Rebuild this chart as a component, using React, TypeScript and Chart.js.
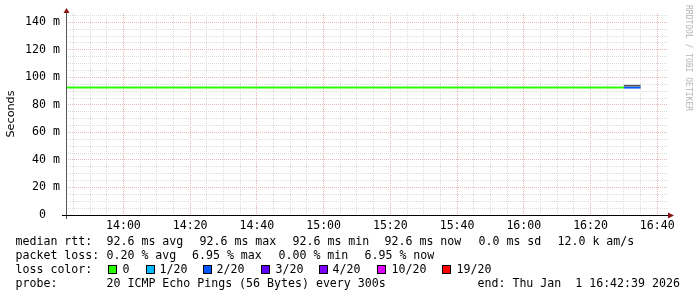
import React, { useEffect, useRef } from 'react';
import { Chart, registerables } from 'chart.js';

Chart.register(...registerables);

// ---- data ----
const stepTimes = [
  '13:40', '13:45', '13:50', '13:55',
  '14:00', '14:05', '14:10', '14:15', '14:20', '14:25', '14:30', '14:35', '14:40', '14:45', '14:50', '14:55',
  '15:00', '15:05', '15:10', '15:15', '15:20', '15:25', '15:30', '15:35', '15:40', '15:45', '15:50', '15:55',
  '16:00', '16:05', '16:10', '16:15', '16:20', '16:25', '16:30', '16:35',
];
const medianRtt = [
  92.6, 92.6, 92.6, 92.6,
  92.6, 92.6, 92.6, 92.6, 92.6, 92.6, 92.6, 92.6, 92.6, 92.6, 92.6, 92.6,
  92.6, 92.6, 92.6, 92.6, 92.6, 92.6, 92.6, 92.6, 92.6, 92.6, 92.6, 92.6,
  92.6, 92.6, 92.6, 92.6, 92.6, 92.6, 92.6, 92.6,
];
const lossIdx = [
  0, 0, 0, 0,
  0, 0, 0, 0, 0, 0, 0, 0, 0, 0, 0, 0,
  0, 0, 0, 0, 0, 0, 0, 0, 0, 0, 0, 0,
  0, 0, 0, 0, 0, 0, 0, 2,
];
const smokeTop = [
  null, null, null, null,
  null, null, null, null, null, null, null, null, null, null, null, null,
  null, null, null, null, null, null, null, null, null, null, null, null,
  null, null, null, null, null, null, 94.0, 94.0,
];
const xMajorLabels = ['14:00', '14:20', '14:40', '15:00', '15:20', '15:40', '16:00', '16:20', '16:40'];
const yMajorValues = [0, 20, 40, 60, 80, 100, 120, 140];
const lossLabels = ['0', '1/20', '2/20', '3/20', '4/20', '10/20', '19/20'];
const lossColors = ['#26ff00', '#00b8ff', '#0059ff', '#5e00ff', '#7e00ff', '#dd00ff', '#ff0000'];
const rttStats = ['92.6 ms avg', '92.6 ms max', '92.6 ms min', '92.6 ms now', '0.0 ms sd', '12.0 k am/s'];
const lossStats = ['0.20 % avg', '6.95 % max', '0.00 % min', '6.95 % now'];
const probeText = '20 ICMP Echo Pings (56 Bytes) every 300s';
const endText = 'end: Thu Jan  1 16:42:39 2026';
const yTitle = 'Seconds';
const watermark = 'RRDTOOL / TOBI OETIKER';

const X_MIN = 822.8;
const X_MAX = 1003.2;
const Y_MAX = 146.8;

const MONO = "'DejaVu Sans Mono', monospace";
const MAJOR = '#e8b6b6';
const MINOR = '#dcdcdc';

const toMin = (s: string) => {
  const [h, m, sec] = s.split(':').map(Number);
  return h * 60 + m + (sec || 0) / 60;
};
const fmt = (v: number) => {
  const h = Math.floor(v / 60);
  const m = Math.round(v - h * 60);
  return String(h).padStart(2, '0') + ':' + String(m).padStart(2, '0');
};

export default function App() {
  const ref = useRef<HTMLCanvasElement>(null);

  useEffect(() => {
    const canvas = ref.current!;
    const medianPoints = stepTimes.map((t, i) => ({ x: toMin(t), y: medianRtt[i] }));
    const smokePoints = stepTimes.map((t, i) => ({ x: toMin(t), y: smokeTop[i] }));

    const overlay = {
      id: 'overlay',
      afterDraw(chart: any) {
        const { ctx, chartArea: ca } = chart;
        ctx.save();
        // y axis
        ctx.setLineDash([]);
        ctx.lineWidth = 1;
        ctx.strokeStyle = '#555';
        ctx.beginPath();
        ctx.moveTo(ca.left + 0.5, ca.top);
        ctx.lineTo(ca.left + 0.5, ca.bottom + 4);
        ctx.stroke();
        // x axis
        ctx.strokeStyle = '#000';
        ctx.beginPath();
        ctx.moveTo(ca.left - 4, ca.bottom + 0.5);
        ctx.lineTo(ca.right, ca.bottom + 0.5);
        ctx.stroke();
        // arrows
        ctx.fillStyle = '#8a1414';
        ctx.beginPath();
        ctx.moveTo(ca.left - 2.5, ca.top);
        ctx.lineTo(ca.left + 3.5, ca.top);
        ctx.lineTo(ca.left + 0.5, ca.top - 5);
        ctx.closePath();
        ctx.fill();
        ctx.beginPath();
        ctx.moveTo(ca.right, ca.bottom - 2.5);
        ctx.lineTo(ca.right, ca.bottom + 3.5);
        ctx.lineTo(ca.right + 6, ca.bottom + 0.5);
        ctx.closePath();
        ctx.fill();

        // legend text
        ctx.fillStyle = '#000';
        ctx.font = `11.6px ${MONO}`;
        ctx.textBaseline = 'alphabetic';
        ctx.textAlign = 'left';
        const L1 = 245, L2 = 259, L3 = 273, L4 = 287;
        ctx.fillText('median rtt:', 15.5, L1);
        const rttX = [106.5, 199.5, 292.5, 384.5, 478.5, 557.5];
        rttStats.forEach((s, i) => ctx.fillText(s, rttX[i], L1));
        ctx.fillText('packet loss:', 15.5, L2);
        const lossX = [106.5, 192, 278.5, 364.5];
        lossStats.forEach((s, i) => ctx.fillText(s, lossX[i], L2));
        ctx.fillText('loss color:', 15.5, L3);
        const boxX = [108, 146, 203, 261, 319, 377, 442];
        const lblX = [122.5, 159.5, 216.5, 275.5, 332.5, 391.5, 456.5];
        lossLabels.forEach((s, i) => {
          ctx.fillStyle = lossColors[i];
          ctx.fillRect(boxX[i], 265.5, 9, 8.5);
          ctx.strokeStyle = '#000';
          ctx.lineWidth = 1;
          ctx.strokeRect(boxX[i] + 0.5, 265.5, 8, 8);
          ctx.fillStyle = '#000';
          ctx.fillText(s, lblX[i], L3);
        });
        ctx.fillText('probe:', 15.5, L4);
        ctx.fillText(probeText, 106.5, L4);
        ctx.fillText(endText, 477.5, L4);

        // watermark
        ctx.save();
        ctx.translate(688, 5);
        ctx.rotate(Math.PI / 2);
        ctx.font = `8px ${MONO}`;
        ctx.fillStyle = '#b4b4b4';
        ctx.textBaseline = 'middle';
        ctx.fillText(watermark, 0, 0);
        ctx.restore();

        ctx.restore();
      },
    };

    const chart = new Chart(canvas, {
      type: 'line',
      data: {
        datasets: [
          {
            label: 'smoke',
            data: smokePoints as any,
            borderColor: '#505050',
            borderWidth: 1.5,
            pointRadius: 0,
            stepped: 'before',
            spanGaps: false,
            fill: false,
          },
          {
            label: 'median',
            data: medianPoints,
            borderColor: lossColors[0],
            borderWidth: 2,
            pointRadius: 0,
            stepped: 'before',
            fill: false,
            segment: {
              borderColor: (c: any) => lossColors[lossIdx[c.p1DataIndex]],
            },
          },
        ],
      },
      options: {
        responsive: false,
        animation: false,
        events: [],
        layout: { padding: { top: 13, right: 29, left: 0, bottom: 0 } },
        plugins: {
          legend: { display: false },
          tooltip: { enabled: false },
          title: { display: false },
        },
        scales: {
          x: {
            type: 'linear',
            min: X_MIN,
            max: X_MAX,
            afterFit: (s: any) => {
              s.height = 82;
            },
            afterBuildTicks: (s: any) => {
              const t: any[] = [];
              for (let v = 825; v <= 1000; v += 5) t.push({ value: v });
              s.ticks = t;
            },
            grid: {
              color: (c: any) => (c.tick && Math.round(c.tick.value) % 20 === 0 ? MAJOR : MINOR),
              drawTicks: false,
              lineWidth: 1,
            },
            border: { display: false, dash: [1, 1] },
            ticks: {
              autoSkip: false,
              maxRotation: 0,
              minRotation: 0,
              padding: 4,
              color: '#000',
              font: { family: MONO, size: 11.6 },
              callback: (v: any) => {
                const lbl = fmt(Number(v));
                return xMajorLabels.includes(lbl) ? lbl : '';
              },
            },
          },
          y: {
            type: 'linear',
            min: 0,
            max: Y_MAX,
            afterFit: (s: any) => {
              s.width = 66;
            },
            afterBuildTicks: (s: any) => {
              const t: any[] = [];
              for (let v = 0; v <= 145; v += 5) t.push({ value: v });
              s.ticks = t;
            },
            grid: {
              color: (c: any) => (c.tick && Math.round(c.tick.value) % 20 === 0 ? MAJOR : MINOR),
              drawTicks: false,
              lineWidth: 1,
            },
            border: { display: false, dash: [1, 1] },
            title: {
              display: true,
              text: yTitle,
              color: '#000',
              font: { family: "'DejaVu Sans', sans-serif", size: 11.2 },
              padding: { top: 4.4, bottom: 0 },
            },
            ticks: {
              autoSkip: false,
              padding: 6,
              color: '#000',
              font: { family: MONO, size: 11.6 },
              callback: (v: any) => {
                const n = Math.round(Number(v));
                if (!yMajorValues.includes(n)) return '';
                return n === 0 ? '0  ' : `${n} m`;
              },
            },
          },
        },
      },
      plugins: [overlay],
    } as any);

    return () => chart.destroy();
  }, []);

  return (
    <div style={{ position: 'fixed', left: 0, top: 0, width: 697, height: 297, background: '#fff' }}>
      <canvas ref={ref} width={697} height={297} style={{ display: 'block', width: 697, height: 297 }} />
    </div>
  );
}
